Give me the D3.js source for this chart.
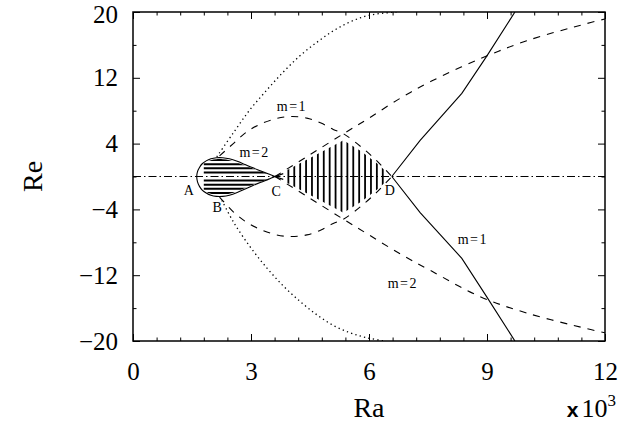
<!DOCTYPE html>
<html><head><meta charset="utf-8">
<script src="https://cdn.jsdelivr.net/npm/d3@7"></script>
<style>body{margin:0;background:#fff}svg{display:block}</style>
</head><body><svg id="c" width="631" height="422"></svg>
<script>
// ---- tick data ----
const xTicks=[0,3,6,9,12];
const xTickLabels=["0","3","6","9","12"];
const xMinorTicks=[0.6,1.2,1.8,2.4,3.6,4.2,4.8,5.4,6.6,7.2,7.8,8.4,9.6,10.2,10.8,11.4];
const yTicks=[20,12,4,-4,-12,-20];
const yTickLabels=["20","12","4","\u22124","\u221212","\u221220"];
const yMinorTicks=[16,8,0,-8,-16];

// ---- curves (Ra in 10^3, Re) ----
const loopRa      =[1.62,1.64,1.69,1.76,1.86,1.98,2.12,2.28,2.45,2.65,2.85,3.05,3.25,3.45,3.61,3.82];
const loopReUpper =[0,0.6,1.1,1.55,1.9,2.15,2.28,2.28,2.15,1.85,1.45,1.05,0.68,0.3,0,-0.35];
const loopReLower =[0,-0.65,-1.2,-1.65,-2.0,-2.28,-2.42,-2.42,-2.28,-1.95,-1.52,-1.1,-0.7,-0.32,0,0.35];

const arcRa       =[2.2,2.55,2.9,3.25,3.65,4.03,4.42,4.78,5.09,5.35,5.8,6.2,6.58];
const arcReUpper  =[2.5,4.0,5.45,6.4,7.05,7.3,7.1,6.5,5.72,5.2,3.6,1.9,0];
const arcReLower  =[-2.5,-4.3,-5.6,-6.45,-7.1,-7.3,-7.1,-6.5,-5.72,-5.2,-3.6,-1.9,0];

const m2Ra        =[3.61,4.5,5.35,6.0,6.79,7.59,8.82,10.01,11.54,12];
const m2ReUpper   =[0,2.65,5.2,7.1,9.5,11.6,14.3,16.5,18.6,19.15];
const m2ReLower   =[0,-2.65,-5.2,-7.1,-9.4,-11.5,-14.6,-16.6,-18.5,-19.0];

const solidRa     =[6.58,7.3,8.36,8.99,9.71];
const solidReUpper=[0,4.4,10.1,14.6,20];
const solidReLower=[0,-4.4,-9.95,-14.6,-20];

const dotUpRa     =[2.13,2.55,2.97,3.40,3.82,4.25,4.67,5.09,5.52,6.0,6.7];
const dotUpRe     =[2.4,5.3,8.1,10.5,12.7,14.7,16.3,17.7,18.8,19.6,20];
const dotLoRa     =[2.26,2.55,2.97,3.40,3.82,4.25,4.67,5.09,5.52,5.94,6.4];
const dotLoRe     =[-2.9,-5.5,-8.5,-11.1,-13.3,-15.2,-16.8,-18.1,-19.0,-19.6,-20];

const loopHatchRe =[2.0,1.5,1.0,0.5,-0.5,-1.0,-1.5,-2.0];
const diamondHatchRa=[3.95,4.1,4.25,4.4,4.55,4.7,4.85,5.0,5.15,5.3,5.45,5.6,5.75,5.9,6.05,6.2,6.35];

// ---- annotations ----
const annText=["A","B","C","D","m=1","m=2","m=1","m=2"];
const annRa  =[1.42,2.14,3.64,6.53,4.04,3.09,8.64,6.86];
const annRe  =[-1.76,-3.71,-1.88,-1.76,8.45,2.92,-7.6,-12.95];

// ---- drawing ----
const svg=d3.select("#c");
const x=d3.scaleLinear().domain([0,12]).range([133,605]);
const y=d3.scaleLinear().domain([-20,20]).range([341,12]);
const font="'Liberation Serif', 'DejaVu Serif', serif";
const zip=(a,b)=>a.map((v,i)=>[v,b[i]]);
const defs=svg.append("defs");
defs.append("clipPath").attr("id","plot").append("rect")
  .attr("x",x(0)).attr("y",y(20)).attr("width",x(12)-x(0)).attr("height",y(-20)-y(20));

const line=d3.line().x(d=>x(d[0])).y(d=>y(d[1]));
const smooth=d3.line().x(d=>x(d[0])).y(d=>y(d[1])).curve(d3.curveCatmullRom.alpha(0.5));
const g=svg.append("g").attr("clip-path","url(#plot)");

// hatch clip: loop
const loopUpperPts=zip(loopRa,loopReUpper);
const loopLowerPts=zip(loopRa,loopReLower);
const loopClosed=loopUpperPts.slice(0,15).concat(loopLowerPts.slice(0,15).reverse().slice(1,14));
defs.append("clipPath").attr("id","loopclip").append("path")
  .attr("d",d3.line().x(d=>x(d[0])).y(d=>y(d[1]*0.92)).curve(d3.curveCatmullRomClosed)(loopClosed));
// hatch clip: diamond
const up=zip(m2Ra,m2ReUpper).filter(d=>d[0]<5.35).concat(zip(arcRa,arcReUpper).filter(d=>d[0]>=5.35));
const lo=zip(m2Ra,m2ReLower).filter(d=>d[0]<5.35).concat(zip(arcRa,arcReLower).filter(d=>d[0]>=5.35));
const diamond=up.concat(lo.slice(1,-1).reverse());
defs.append("clipPath").attr("id","diaclip").append("path")
  .attr("d",d3.line().x(d=>x(d[0])).y(d=>y(d[1]*0.85))(diamond)+"Z");

g.append("g").attr("clip-path","url(#loopclip)").selectAll("line").data(loopHatchRe).join("line")
  .attr("x1",x(1.8)).attr("x2",x(3.6)).attr("y1",d=>y(d)).attr("y2",d=>y(d))
  .attr("stroke","#000").attr("stroke-width",2);
g.append("g").attr("clip-path","url(#diaclip)").selectAll("line").data(diamondHatchRa).join("line")
  .attr("x1",d=>x(d)).attr("x2",d=>x(d)).attr("y1",y(8)).attr("y2",y(-8))
  .attr("stroke","#000").attr("stroke-width",1.8);

// dash-dot zero line
g.append("line").attr("x1",x(0)).attr("x2",x(12)).attr("y1",y(0)).attr("y2",y(0))
  .attr("stroke","#000").attr("stroke-width",1).attr("stroke-dasharray","8,3,1.5,3");

// loop
const loopPath=loopLowerPts.slice().reverse().concat(loopUpperPts.slice(1));
g.append("path").attr("d",smooth(loopPath)).attr("fill","none").attr("stroke","#000").attr("stroke-width",1.1);

// dashed
[[arcRa,arcReUpper],[arcRa,arcReLower],[m2Ra,m2ReUpper],[m2Ra,m2ReLower]].forEach(([a,b])=>{
  g.append("path").attr("d",smooth(zip(a,b))).attr("fill","none").attr("stroke","#000")
   .attr("stroke-width",1.1).attr("stroke-dasharray","7,7");
});
// dotted
[[dotUpRa,dotUpRe],[dotLoRa,dotLoRe]].forEach(([a,b])=>{
  g.append("path").attr("d",smooth(zip(a,b))).attr("fill","none").attr("stroke","#000")
   .attr("stroke-width",1.3).attr("stroke-dasharray","1.3,3.2");
});
// solid
[[solidRa,solidReUpper],[solidRa,solidReLower]].forEach(([a,b])=>{
  g.append("path").attr("d",line(zip(a,b))).attr("fill","none").attr("stroke","#000").attr("stroke-width",1.1);
});

// annotations
svg.append("g").selectAll("text").data(annText).join("text")
  .attr("x",(d,i)=>x(annRa[i])).attr("y",(d,i)=>y(annRe[i]))
  .attr("text-anchor","middle").attr("dominant-baseline","central")
  .attr("font-family",font).attr("font-size",14).attr("letter-spacing",(d)=>d.length>1?1.5:0)
  .text(d=>d);

// axes
function styleAxis(sel){sel.select(".domain").remove();sel.selectAll("line").attr("stroke","#000").attr("stroke-width",1);
  sel.selectAll("text").attr("font-family",font).attr("font-size",25).attr("fill","#000");}
svg.append("g").attr("transform",`translate(0,${y(-20)})`)
  .call(d3.axisBottom(x).tickValues(xTicks).tickFormat((d,i)=>xTickLabels[i]).tickSize(-7).tickPadding(21)).call(styleAxis);
svg.append("g").attr("transform",`translate(0,${y(-20)})`)
  .call(d3.axisBottom(x).tickValues(xMinorTicks).tickFormat("").tickSize(-3.5)).call(styleAxis);
svg.append("g").attr("transform",`translate(0,${y(20)})`)
  .call(d3.axisTop(x).tickValues(xTicks).tickFormat("").tickSize(-7)).call(styleAxis);
svg.append("g").attr("transform",`translate(0,${y(20)})`)
  .call(d3.axisTop(x).tickValues(xMinorTicks).tickFormat("").tickSize(-3.5)).call(styleAxis);
const yAx=svg.append("g").attr("transform",`translate(${x(0)},0)`)
  .call(d3.axisLeft(y).tickValues(yTicks).tickFormat((d,i)=>yTickLabels[i]).tickSize(-7).tickPadding(15)).call(styleAxis);
yAx.selectAll("text").filter(d=>d===20).attr("dy","0.43em");
svg.append("g").attr("transform",`translate(${x(0)},0)`)
  .call(d3.axisLeft(y).tickValues(yMinorTicks).tickFormat("").tickSize(-3.5)).call(styleAxis);
svg.append("g").attr("transform",`translate(${x(12)},0)`)
  .call(d3.axisRight(y).tickValues(yTicks).tickFormat("").tickSize(-7)).call(styleAxis);
svg.append("g").attr("transform",`translate(${x(12)},0)`)
  .call(d3.axisRight(y).tickValues(yMinorTicks).tickFormat("").tickSize(-3.5)).call(styleAxis);

svg.append("rect").attr("x",x(0)).attr("y",y(20)).attr("width",x(12)-x(0)).attr("height",y(-20)-y(20))
  .attr("fill","none").attr("stroke","#000").attr("stroke-width",1.5);

// axis titles
svg.append("text").attr("x",(x(0)+x(12))/2).attr("y",417).attr("text-anchor","middle")
  .attr("font-family",font).attr("font-size",28).text("Ra");
svg.append("text").attr("transform",`translate(42,${(y(20)+y(-20))/2}) rotate(-90)`).attr("text-anchor","middle")
  .attr("font-family",font).attr("font-size",28).text("Re");
const mult=svg.append("text").attr("x",616).attr("y",417).attr("text-anchor","end").attr("font-family",font).attr("font-size",26);
mult.append("tspan").attr("font-family","'Liberation Sans', Arial, sans-serif").attr("font-weight","bold").attr("font-size",21).text("x");
mult.append("tspan").attr("dx",3).text("10");
mult.append("tspan").attr("dy",-11).attr("font-size",17).text("3");
</script></body></html>
